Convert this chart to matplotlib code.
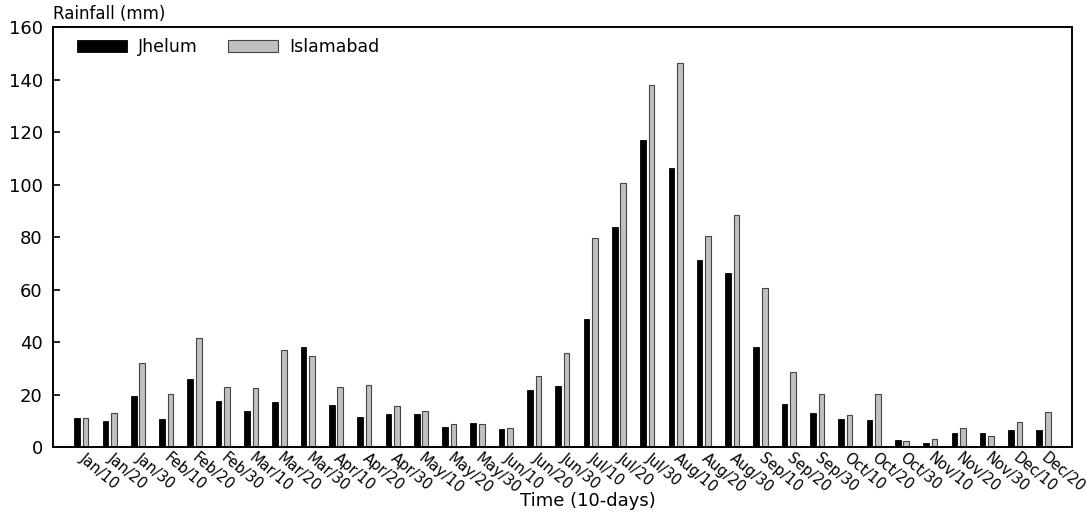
import matplotlib
matplotlib.use("Agg")
import matplotlib.pyplot as plt
import matplotlib.transforms as mtransforms
import numpy as np

plt.rcParams["font.family"] = ["DejaVu Sans"]

periods = [
    "Jan/10", "Jan/20", "Jan/30", "Feb/10", "Feb/20", "Feb/30",
    "Mar/10", "Mar/20", "Mar/30", "Apr/10", "Apr/20", "Apr/30",
    "May/10", "May/20", "May/30", "Jun/10", "Jun/20", "Jun/30",
    "Jul/10", "Jul/20", "Jul/30", "Aug/10", "Aug/20", "Aug/30",
    "Sep/10", "Sep/20", "Sep/30", "Oct/10", "Oct/20", "Oct/30",
    "Nov/10", "Nov/20", "Nov/30", "Dec/10", "Dec/20",
]

jhelum = [
    11.2, 10.0, 19.3, 10.7, 25.9, 17.4,
    13.7, 17.0, 38.1, 15.9, 11.6, 12.6,
    12.6, 7.6, 9.1, 7.0, 21.6, 23.2,
    48.9, 84.0, 117.1, 106.4, 71.4, 66.4,
    38.1, 16.4, 13.1, 10.7, 10.3, 2.7,
    1.5, 5.2, 5.5, 6.4, 6.4,
]

islamabad = [
    11.2, 13.1, 31.9, 20.3, 41.4, 22.9,
    22.6, 36.8, 34.8, 22.9, 23.8, 15.5,
    13.9, 8.6, 8.6, 7.4, 27.2, 36.0,
    79.5, 100.8, 137.8, 146.3, 80.6, 88.6,
    60.6, 28.6, 20.1, 12.2, 20.3, 2.3,
    3.2, 7.2, 4.0, 9.7, 13.3,
]

x = np.arange(len(periods))
w = 0.2

fig = plt.figure(figsize=(10.87, 5.13), dpi=100)
ax = fig.add_axes([0.0488, 0.1287, 0.9372, 0.8183])

ax.bar(x - 0.15, jhelum, width=w, color="black", edgecolor="black",
       linewidth=0.6, label="Jhelum")
ax.bar(x + 0.15, islamabad, width=w, color="#c0c0c0", edgecolor="#444444",
       linewidth=0.8, label="Islamabad")

ax.set_xlim(-1, len(periods))
ax.set_ylim(0, 160)
ax.set_yticks(np.arange(0, 161, 20))
ax.tick_params(axis="y", direction="in", length=5, width=1.2,
               labelsize=13, pad=7.5)
ax.tick_params(axis="x", length=0, pad=3)

ax.set_xticks(x)
ax.set_xticklabels(periods, rotation=-40, ha="left", va="center",
                   rotation_mode="anchor", fontsize=10.5)
shift = mtransforms.ScaledTranslation(0.0, -0.05, fig.dpi_scale_trans)
for lbl in ax.get_xticklabels():
    lbl.set_transform(lbl.get_transform() + shift)

for sp in ax.spines.values():
    sp.set_linewidth(1.4)

fig.text(588 / 1087, 1 - 501 / 513, "Time (10-days)", fontsize=13,
         ha="center", va="center")
ax.text(0.0, 1.01, "Rainfall (mm)", transform=ax.transAxes,
        fontsize=12, ha="left", va="bottom")

ax.legend(loc="upper left", bbox_to_anchor=(0.012, 1.0), frameon=False,
          ncol=2, fontsize=12.5, handlelength=2.9, handleheight=0.7,
          handletextpad=0.65, columnspacing=1.7, borderaxespad=0.25)

fig.savefig("out.png", dpi=100)
